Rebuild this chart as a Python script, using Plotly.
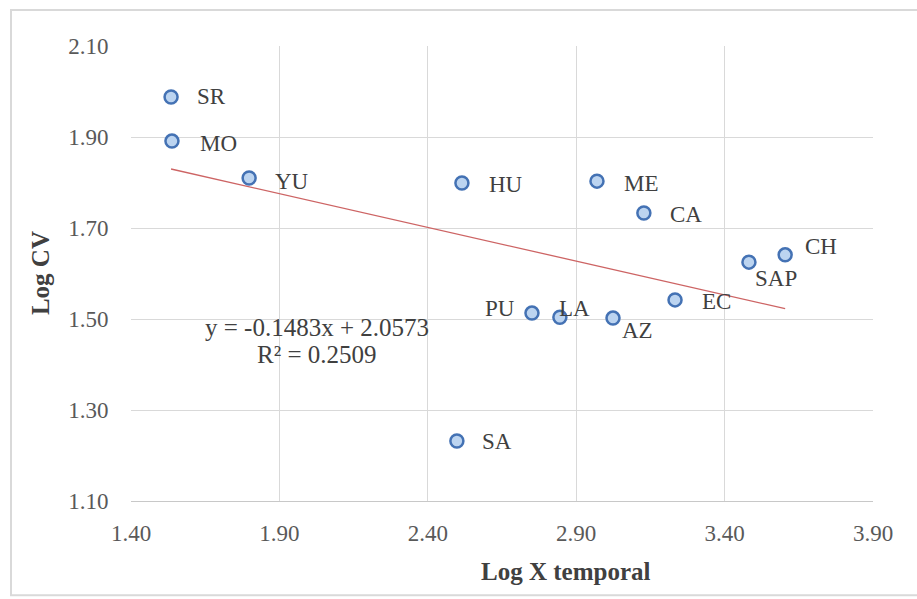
import plotly.graph_objects as go

# ---- data ----
sites = ["SR", "MO", "YU", "HU", "ME", "CA", "CH", "SAP", "EC", "PU", "LA", "AZ", "SA"]
log_x = [1.535, 1.538, 1.798, 2.515, 2.970, 3.128, 3.604, 3.482, 3.233, 2.751, 2.845, 3.024, 2.498]
log_cv = [1.988, 1.891, 1.810, 1.799, 1.803, 1.733, 1.641, 1.625, 1.542, 1.513, 1.504, 1.502, 1.232]
slope = -0.1483
intercept = 2.0573
r2 = 0.2509
x_ticks = [1.40, 1.90, 2.40, 2.90, 3.40, 3.90]
y_ticks = [1.10, 1.30, 1.50, 1.70, 1.90, 2.10]

# label placement (anchor, pixel offsets from each point)
label_style = {
    "SR": ("left", 24, 0), "MO": ("left", 26, -2), "YU": ("left", 24, -4),
    "HU": ("left", 25, -2), "ME": ("left", 25, -2), "CA": ("left", 24, -2),
    "CH": ("left", 18, 8), "SAP": ("left", 4, -16), "EC": ("left", 25, -2),
    "PU": ("right", -15, 5), "LA": ("left", -3, 9), "AZ": ("left", 7, -12),
    "SA": ("left", 23, -1),
}

SERIF = "Liberation Serif, Times New Roman, serif"
TXT = "#404040"

fig = go.Figure()

# trendline over data range
x0, x1 = min(log_x), max(log_x)
fig.add_trace(go.Scatter(
    x=[x0, x1], y=[slope * x0 + intercept, slope * x1 + intercept],
    mode="lines", line=dict(color="#cd6464", width=1.3), hoverinfo="skip",
))

fig.add_trace(go.Scatter(
    x=log_x, y=log_cv, mode="markers",
    marker=dict(size=13, color="#bcd4f0", line=dict(color="#4472b4", width=2.5)),
    hoverinfo="text", text=sites,
))

for s, xv, yv in zip(sites, log_x, log_cv):
    anchor, dx, dy = label_style[s]
    fig.add_annotation(x=xv, y=yv, text=s, showarrow=False, xanchor=anchor,
                       xshift=dx, yshift=dy,
                       font=dict(family=SERIF, size=23, color=TXT))

fig.add_annotation(x=2.027, y=1.482, text=f"y = {slope:.4f}x + {intercept:.4f}",
                   showarrow=False, font=dict(family=SERIF, size=25, color=TXT))
fig.add_annotation(x=2.027, y=1.421, text=f"R² = {r2:.4f}",
                   showarrow=False, font=dict(family=SERIF, size=25, color=TXT))

# axis titles
fig.add_annotation(xref="paper", yref="paper", x=0.586, y=-0.154, text="<b>Log X temporal</b>",
                   showarrow=False, xanchor="center", yanchor="middle",
                   font=dict(family=SERIF, size=25, color=TXT))
fig.add_annotation(xref="paper", yref="paper", x=-0.1226, y=0.501, text="<b>Log CV</b>",
                   showarrow=False, xanchor="center", yanchor="middle", textangle=-90,
                   font=dict(family=SERIF, size=25, color=TXT))

# outer chart border
fig.add_shape(type="rect", xref="paper", yref="paper",
              x0=-0.1617, x1=1.07, y0=-0.207, y1=1.079,
              line=dict(color="#d9d9d9", width=2), fillcolor="rgba(0,0,0,0)", layer="below")

fig.update_layout(
    width=917, height=599,
    margin=dict(l=131, r=44, t=46, b=98),
    paper_bgcolor="white", plot_bgcolor="white",
    showlegend=False,
    font=dict(family=SERIF, color="#595959"),
)
fig.update_xaxes(
    range=[1.40, 3.90], tickvals=x_ticks, ticktext=[f"{v:.2f}" for v in x_ticks],
    showgrid=True, gridcolor="#d9d9d9", gridwidth=1, zeroline=False,
    showline=True, linecolor="#c8c8c8", linewidth=1,
    ticks="outside", ticklen=11, tickcolor="rgba(0,0,0,0)",
    tickfont=dict(family=SERIF, size=23, color="#595959"),
)
fig.update_yaxes(
    range=[1.10, 2.10], tickvals=y_ticks, ticktext=[f"{v:.2f}" for v in y_ticks],
    showgrid=True, gridcolor="#d9d9d9", gridwidth=1, zeroline=False,
    showline=False,
    ticks="outside", ticklen=17, tickcolor="rgba(0,0,0,0)",
    tickfont=dict(family=SERIF, size=23, color="#595959"),
)

fig.write_html("out.html")
